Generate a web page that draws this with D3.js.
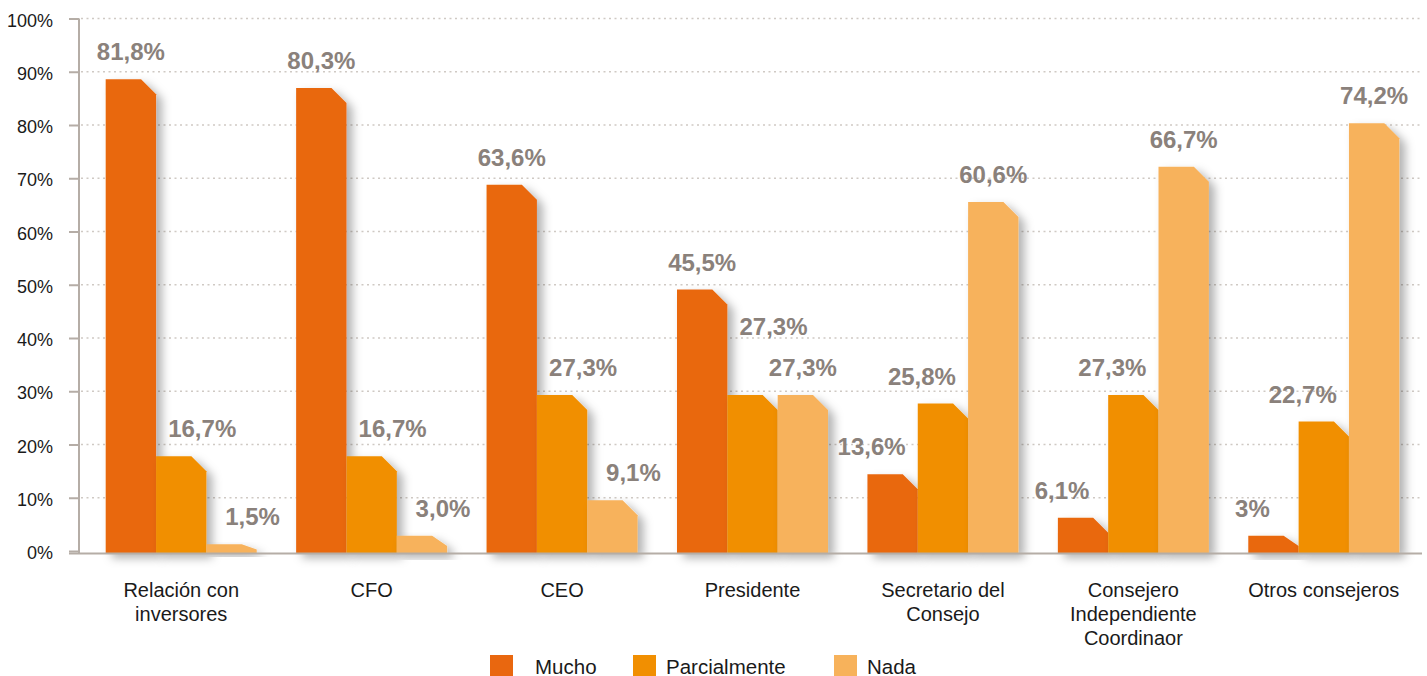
<!DOCTYPE html>
<html>
<head>
<meta charset="utf-8">
<script src="https://cdn.jsdelivr.net/npm/d3@7"></script>
<style>
  body { margin: 0; background: #fff; }
  #canvas { width: 1427px; height: 676px; }
  text { font-family: "Liberation Sans", Arial, Helvetica, sans-serif; }
</style>
</head>
<body>
<div id="canvas"></div>
<script>
// data
const categories = [
  ['Relación con', 'inversores'],
  ['CFO'],
  ['CEO'],
  ['Presidente'],
  ['Secretario del', 'Consejo'],
  ['Consejero', 'Independiente', 'Coordinaor'],
  ['Otros consejeros']
];
const seriesNames = ['Mucho', 'Parcialmente', 'Nada'];
const mucho = [81.8, 80.3, 63.6, 45.5, 13.6, 6.1, 3.0];
const parcialmente = [16.7, 16.7, 27.3, 27.3, 25.8, 27.3, 22.7];
const nada = [1.5, 3.0, 9.1, 27.3, 60.6, 66.7, 74.2];
const muchoLabels = ['81,8%', '80,3%', '63,6%', '45,5%', '13,6%', '6,1%', '3%'];
const parcialmenteLabels = ['16,7%', '16,7%', '27,3%', '27,3%', '25,8%', '27,3%', '22,7%'];
const nadaLabels = ['1,5%', '3,0%', '9,1%', '27,3%', '60,6%', '66,7%', '74,2%'];
const yTicks = [0, 10, 20, 30, 40, 50, 60, 70, 80, 90, 100];

const colors = ['#e9670f', '#f18f01', '#f7b25b'];
const seriesValues = [mucho, parcialmente, nada];
const seriesLabels = [muchoLabels, parcialmenteLabels, nadaLabels];

const width = 1427;
const height = 676;
const margin = { top: 18.5, left: 79, right: 5, bottom: 125 };

const canvas = document.getElementById('canvas');
const svg = d3.select(canvas).append('svg')
  .attr('width', width)
  .attr('height', height)
  .attr('viewBox', [0, 0, width, height]);

const defs = svg.append('defs');
const shadow = defs.append('filter')
  .attr('id', 'shadow')
  .attr('x', '-20%').attr('y', '-20%')
  .attr('width', '160%').attr('height', '160%');
shadow.append('feDropShadow')
  .attr('dx', 6).attr('dy', 5)
  .attr('stdDeviation', 5)
  .attr('flood-color', '#000')
  .attr('flood-opacity', 0.3);

const yScale = d3.scaleLinear()
  .domain([0, 100])
  .range([551, margin.top]);

// the bars in the original are drawn slightly taller than the axis
const barScale = d3.scaleLinear()
  .domain([0, 92.3])
  .range([553, margin.top]);

const x0 = d3.scaleBand()
  .domain(d3.range(categories.length))
  .range([86, 1419])
  .paddingInner(0.207)
  .paddingOuter(0.1035);

const x1 = d3.scaleBand()
  .domain(d3.range(seriesNames.length))
  .range([0, x0.bandwidth()]);

// grid
svg.append('g')
  .attr('id', 'grid')
  .selectAll('line')
  .data(yTicks.filter(d => d > 0))
  .join('line')
  .attr('x1', margin.left + 2)
  .attr('x2', 1422)
  .attr('y1', d => yScale(d))
  .attr('y2', d => yScale(d))
  .attr('stroke', '#cfc9c4')
  .attr('stroke-width', 1.5)
  .attr('stroke-dasharray', '2,3.5');

// y axis
const yAxis = svg.append('g')
  .attr('id', 'y-axis')
  .attr('transform', `translate(${margin.left},0)`)
  .call(d3.axisLeft(yScale)
    .tickValues(yTicks)
    .tickFormat(d => d + '%')
    .tickSize(10)
    .tickPadding(16));
yAxis.select('.domain').remove();
yAxis.selectAll('.tick line').attr('stroke', '#b5ada6').attr('stroke-width', 2);
yAxis.selectAll('.tick text')
  .attr('fill', '#1a1a1a')
  .attr('font-size', 18)
  .attr('dy', '0.42em');
svg.append('line')
  .attr('x1', margin.left).attr('x2', margin.left)
  .attr('y1', yScale(100)).attr('y2', 554)
  .attr('stroke', '#b5ada6').attr('stroke-width', 2);

// bars
const cut = 15;
function barPath(x, w, v) {
  const top = barScale(v);
  const bottom = barScale(0);
  const dy = Math.min(cut, (bottom - top) * 0.6);
  return `M${x},${bottom}L${x},${top}L${x + w - cut},${top}L${x + w},${top + dy}L${x + w},${bottom}Z`;
}

const dataRegion = svg.append('g').attr('id', 'data');
const groups = dataRegion.selectAll('g')
  .data(categories.map((c, i) => i))
  .join('g')
  .attr('transform', i => `translate(${x0(i)},0)`);

groups.selectAll('path')
  .data(i => seriesNames.map((s, k) => ({ k, v: seriesValues[k][i] })))
  .join('path')
  .attr('d', d => barPath(x1(d.k), x1.bandwidth(), d.v))
  .attr('fill', d => colors[d.k])
  .attr('filter', 'url(#shadow)');

// baseline
svg.append('line')
  .attr('x1', 69).attr('x2', 1422)
  .attr('y1', 553.5).attr('y2', 553.5)
  .attr('stroke', '#b5ada6').attr('stroke-width', 2);

// value labels, nudged away from a taller neighbour
function labelShift(i, k) {
  const v = seriesValues[k][i];
  const right = k < 2 ? seriesValues[k + 1][i] : null;
  const left = k > 0 ? seriesValues[k - 1][i] : null;
  if (right !== null && right > v) return -21;
  if (left !== null && left > v) return 21;
  return 0;
}
// a label whose right neighbour has the same value is lifted above it
function labelLift(i, k) {
  const v = seriesValues[k][i];
  const right = k < 2 ? seriesValues[k + 1][i] : null;
  return right === v ? 41 : 0;
}

groups.selectAll('text.value')
  .data(i => seriesNames.map((s, k) => ({ i, k, v: seriesValues[k][i], label: seriesLabels[k][i] })))
  .join('text')
  .attr('class', 'value')
  .attr('x', d => x1(d.k) + x1.bandwidth() / 2 + labelShift(d.i, d.k))
  .attr('y', d => barScale(d.v) - 19 - labelLift(d.i, d.k))
  .attr('text-anchor', 'middle')
  .attr('font-size', 24)
  .attr('font-weight', 'bold')
  .attr('fill', '#8a817b')
  .text(d => d.label);

// category labels
const xLabels = svg.append('g').attr('id', 'x-axis');
xLabels.selectAll('text')
  .data(categories.map((c, i) => ({ c, i })))
  .join('text')
  .attr('x', d => x0(d.i) + x0.bandwidth() / 2)
  .attr('y', 597)
  .attr('text-anchor', 'middle')
  .attr('font-size', 20)
  .attr('fill', '#1a1a1a')
  .selectAll('tspan')
  .data(d => d.c.map((line, j) => ({ line, j, x: x0(d.i) + x0.bandwidth() / 2 })))
  .join('tspan')
  .attr('x', d => d.x)
  .attr('dy', d => d.j === 0 ? 0 : 24)
  .text(d => d.line);

// legend
const legendX = [490, 633, 834];
const legend = svg.append('g').attr('id', 'legend');
const items = legend.selectAll('g')
  .data(seriesNames.map((s, k) => ({ s, k })))
  .join('g')
  .attr('transform', d => `translate(${legendX[d.k]},655)`);
items.append('rect')
  .attr('width', 23).attr('height', 23)
  .attr('fill', d => colors[d.k]);
items.append('text')
  .attr('x', d => d.k === 0 ? 45 : 33)
  .attr('y', 18.5)
  .attr('font-size', 20.5)
  .attr('fill', '#1a1a1a')
  .text(d => d.s);
</script>
</body>
</html>
